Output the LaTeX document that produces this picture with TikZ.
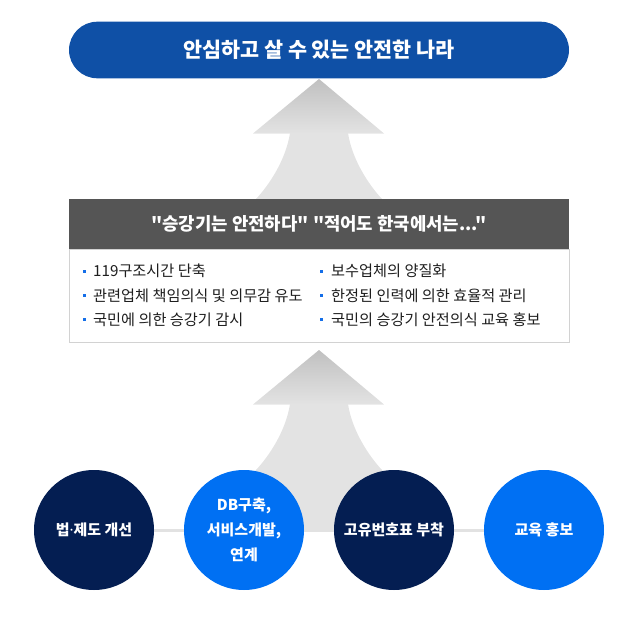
\documentclass[tikz,border=0pt]{standalone}
\usepackage{fontspec}
\setmainfont{Noto Sans CJK KR}[Ligatures=TeXOff]
\newfontfamily\dotfont{Noto Sans}
\usetikzlibrary{backgrounds}
\definecolor{pillblue}{RGB}{15,80,166}
\definecolor{hdrgray}{RGB}{85,85,85}
\definecolor{boxline}{RGB}{210,210,210}
\definecolor{bulletblue}{RGB}{20,110,232}
\definecolor{textdark}{RGB}{30,30,30}
\definecolor{navy}{RGB}{4,30,82}
\definecolor{brightblue}{RGB}{0,112,243}
\definecolor{arrowgray}{RGB}{227,227,227}
\definecolor{headtop}{RGB}{192,192,192}
\definecolor{linkgray}{RGB}{226,226,226}
\tikzset{
  pill/.style={rectangle, rounded corners=28.3pt, fill=pillblue, minimum width=500pt, minimum height=56.6pt, text=white, font=\bfseries\fontsize{20.7}{24}\selectfont},
  hdrbox/.style={rectangle, fill=hdrgray, minimum width=500pt, minimum height=50pt, text=white, font=\bfseries\fontsize{17.8}{21}\selectfont},
  bodybox/.style={rectangle, fill=white, draw=boxline, line width=0.9pt, minimum width=500pt, minimum height=93pt},
  circ/.style={circle, minimum size=120pt, inner sep=0pt, text=white, align=center, font=\bfseries\fontsize{15}{24.7}\selectfont},
  navycirc/.style={circ, fill=navy},
  bluecirc/.style={circ, fill=brightblue},
  bul/.style={anchor=west, inner sep=0pt, text=textdark, font=\fontsize{15.2}{18}\selectfont},
  sq/.style={rectangle, fill=bulletblue, minimum size=3pt, inner sep=0pt},
  headfill/.style={top color=headtop, bottom color=arrowgray},
  shaftfill/.style={fill=arrowgray},
  link/.style={draw=linkgray, line width=3pt}
}
\begin{document}
\begin{tikzpicture}[x=1pt,y=-1pt]
\useasboundingbox (0,0) rectangle (630,629);
% upper arrow
\path[headfill] (319,79) -- (384,133.5) -- (253,133.5) -- cycle;
\path[shaftfill] (290,133) -- (348,133) .. controls (352,159) and (368,184) .. (382,199) -- (256,199) .. controls (270,184) and (286,159) .. (290,133) -- cycle;
% lower arrow
\path[headfill] (319,350) -- (384,404.5) -- (253,404.5) -- cycle;
\path[shaftfill] (290,404) -- (348,404) .. controls (352,430) and (368,455) .. (382,470) -- (438,530) -- (200,530) -- (256,470) .. controls (270,455) and (286,430) .. (290,404) -- cycle;
% goal
\node[pill] (goal) at (319,50) {안심하고 살 수 있는 안전한 나라};
% box
\node[bodybox] (body) at (319,295.5) {};
\node[hdrbox] (hdr) at (319,224) {"승강기는 안전하다" "적어도 한국에서는..."};
\node[sq] (b1) at (84,271) {};
\node[bul] (t1) at (93,271) {119구조시간 단축};
\node[sq] (b2) at (84,295.5) {};
\node[bul] (t2) at (93,295.5) {관련업체 책임의식 및 의무감 유도};
\node[sq] (b3) at (84,319.5) {};
\node[bul] (t3) at (93,319.5) {국민에 의한 승강기 감시};
\node[sq] (b4) at (321.5,271) {};
\node[bul] (t4) at (331,271) {보수업체의 양질화};
\node[sq] (b5) at (321.5,295.5) {};
\node[bul] (t5) at (331,295.5) {한정된 인력에 의한 효율적 관리};
\node[sq] (b6) at (321.5,319.5) {};
\node[bul] (t6) at (331,319.5) {국민의 승강기 안전의식 교육 홍보};
% circles
\node[navycirc] (c1) at (94,530) {법{\dotfont\bfseries ·}제도 개선};
\node[bluecirc] (c2) at (244,530) {DB구축,\\서비스개발,\\연계};
\node[navycirc] (c3) at (394,530) {고유번호표 부착};
\node[bluecirc] (c4) at (544,530) {교육 홍보};
\begin{pgfonlayer}{background}
\draw[link] (c1) -- (c2);
\draw[link] (c2) -- (c3);
\draw[link] (c3) -- (c4);
\end{pgfonlayer}
\end{tikzpicture}
\end{document}
